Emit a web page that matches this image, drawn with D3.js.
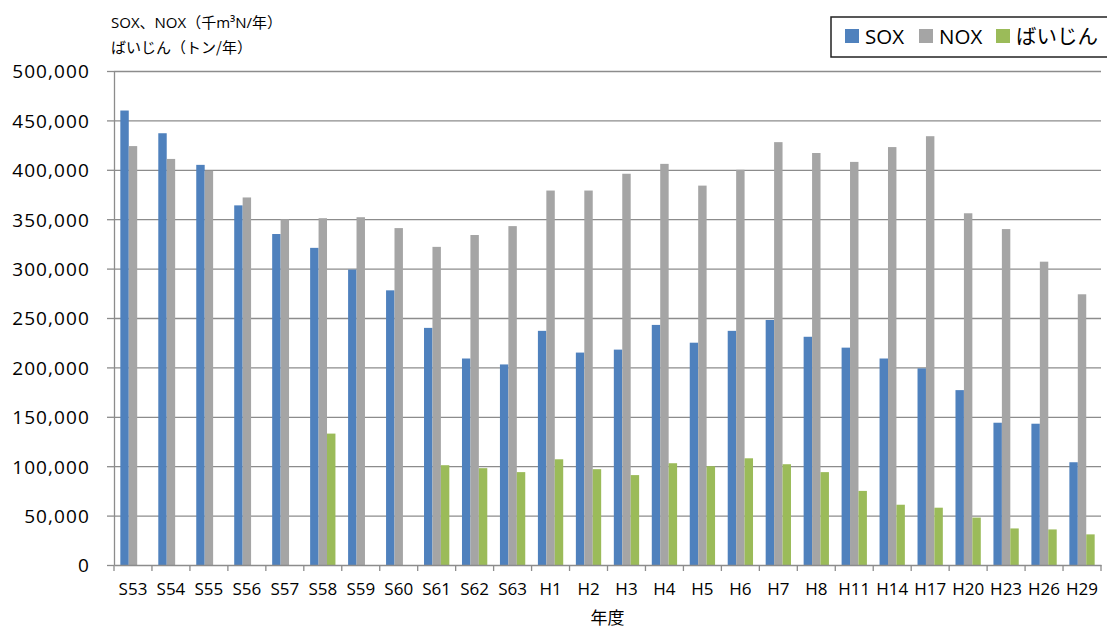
<!DOCTYPE html>
<html>
<head>
<meta charset="utf-8">
<script src="https://cdn.jsdelivr.net/npm/d3@7"></script>
<style>
  body { margin: 0; background: #fff; }
  text { font-family: 'Open Sans', 'Noto Sans CJK JP', sans-serif; fill: #000; }
</style>
</head>
<body>
<div id="chart"></div>
<script>
// Years (fiscal) shown on the x axis
const years = ['S53', 'S54', 'S55', 'S56', 'S57', 'S58', 'S59', 'S60', 'S61', 'S62', 'S63',
  'H1', 'H2', 'H3', 'H4', 'H5', 'H6', 'H7', 'H8', 'H11', 'H14', 'H17', 'H20', 'H23', 'H26', 'H29'];

// SOX (thousand m3N / year)
const sox = [460000, 437000, 405000, 364000, 335000, 321000, 299000, 278000, 240000, 209000, 203000,
  237000, 215000, 218000, 243000, 225000, 237000, 248000, 231000, 220000, 209000, 199000, 177000, 144000, 143000, 104000];

// NOX (thousand m3N / year)
const nox = [424000, 411000, 399000, 372000, 350000, 351000, 352000, 341000, 322000, 334000, 343000,
  379000, 379000, 396000, 406000, 384000, 400000, 428000, 417000, 408000, 423000, 434000, 356000, 340000, 307000, 274000];

// dust (t / year), no data before S58 and for S59, S60
const dust = [null, null, null, null, null, 133000, null, null, 101000, 98000, 94000,
  107000, 97000, 91000, 103000, 100000, 108000, 102000, 94000, 75000, 61000, 58000, 48000, 37000, 36000, 31000];

const seriesNames = ['SOX', 'NOX', 'ばいじん'];
const seriesColors = ['#4F81BD', '#A5A5A5', '#9BBB59'];
const yTicks = [0, 50000, 100000, 150000, 200000, 250000, 300000, 350000, 400000, 450000, 500000];

const W = 1107, H = 630;
const margin = { top: 71, right: 6, bottom: 65, left: 114 };
const width = W - margin.left - margin.right;
const height = H - margin.top - margin.bottom;

const svg = d3.select('#chart').append('svg')
  .attr('width', W)
  .attr('height', H);

const g = svg.append('g')
  .attr('transform', 'translate(' + margin.left + ',' + margin.top + ')');

// scales
const x = d3.scaleBand().domain(years).range([0, width]);
const barW = x.step() / 4.5; // excel gap width 150%
const x1 = d3.scaleBand().domain(seriesNames)
  .range([0.75 * barW, x.step() - 0.75 * barW]);
const y = d3.scaleLinear().domain([0, 500000]).range([height, 0]);

// gridlines
g.append('g')
  .attr('class', 'grid')
  .call(d3.axisLeft(y).tickValues(yTicks.slice(1)).tickSize(-width).tickFormat(''))
  .call((s) => s.select('.domain').remove())
  .selectAll('line')
  .attr('stroke', '#8c8c8c')
  .attr('stroke-width', 1.3);

// bars
const rows = years.map((yr, i) => ({ year: yr, vals: [sox[i], nox[i], dust[i]] }));
const groups = g.selectAll('.yr')
  .data(rows)
  .enter()
  .append('g')
  .attr('transform', (d) => 'translate(' + x(d.year) + ',0)');

groups.selectAll('rect')
  .data((d) => d.vals.map((v, k) => ({ name: seriesNames[k], v: v, k: k })).filter((e) => e.v != null))
  .enter()
  .append('rect')
  .attr('x', (d) => x1(d.name))
  .attr('width', x1.bandwidth())
  .attr('y', (d) => y(d.v))
  .attr('height', (d) => height - y(d.v))
  .attr('fill', (d) => seriesColors[d.k]);

// y axis
const yAxis = g.append('g')
  .call(d3.axisLeft(y).tickValues(yTicks).tickSize(7).tickPadding(17).tickSizeOuter(0)
    .tickFormat(d3.format(',')));
yAxis.select('.domain').attr('stroke', '#8c8c8c').attr('stroke-width', 1.3);
yAxis.selectAll('line').attr('stroke', '#8c8c8c').attr('stroke-width', 1.3);
yAxis.selectAll('text')
  .style('font-size', '19px')
  .style('letter-spacing', '1.1px')
  .attr('dy', '0.36em');

// x axis (labels at centres, ticks between categories)
const xAxis = g.append('g')
  .attr('transform', 'translate(0,' + height + ')')
  .call(d3.axisBottom(x).tickSize(0).tickPadding(18));
xAxis.select('.domain').attr('stroke', '#8c8c8c').attr('stroke-width', 1.3);
xAxis.selectAll('text').style('font-size', '17px');

xAxis.selectAll('.sep')
  .data(d3.range(years.length + 1))
  .enter()
  .append('line')
  .attr('x1', (i) => i * x.step())
  .attr('x2', (i) => i * x.step())
  .attr('y1', 0)
  .attr('y2', 6)
  .attr('stroke', '#8c8c8c')
  .attr('stroke-width', 1.3);

// x axis title
svg.append('text')
  .attr('x', margin.left + width / 2)
  .attr('y', 624)
  .attr('text-anchor', 'middle')
  .style('font-size', '17px')
  .style('font-family', "'Noto Sans CJK JP', sans-serif")
  .text('年度');

// y axis unit labels
svg.append('text')
  .attr('x', 111)
  .attr('y', 28)
  .style('font-size', '15px')
  .text('SOX、NOX（千m³N/年）');
svg.append('text')
  .attr('x', 111)
  .attr('y', 53)
  .style('font-size', '15px')
  .style('font-family', "'Noto Sans CJK JP', sans-serif")
  .text('ばいじん（トン/年）');

// legend
const legend = svg.append('g').attr('transform', 'translate(831,17)');
legend.append('rect')
  .attr('x', 0)
  .attr('y', 0)
  .attr('width', 290)
  .attr('height', 40)
  .attr('fill', '#fff')
  .attr('stroke', '#222')
  .attr('stroke-width', 1.5);

const legendX = [14, 88, 165];
const item = legend.selectAll('.item')
  .data(seriesNames)
  .enter()
  .append('g')
  .attr('transform', (d, i) => 'translate(' + legendX[i] + ',0)');
item.append('rect')
  .attr('x', 0)
  .attr('y', 12)
  .attr('width', 14)
  .attr('height', 14)
  .attr('fill', (d, i) => seriesColors[i]);
item.append('text')
  .attr('x', 20)
  .attr('y', 27)
  .style('font-size', '20.5px')
  .text((d) => d);
</script>
</body>
</html>
